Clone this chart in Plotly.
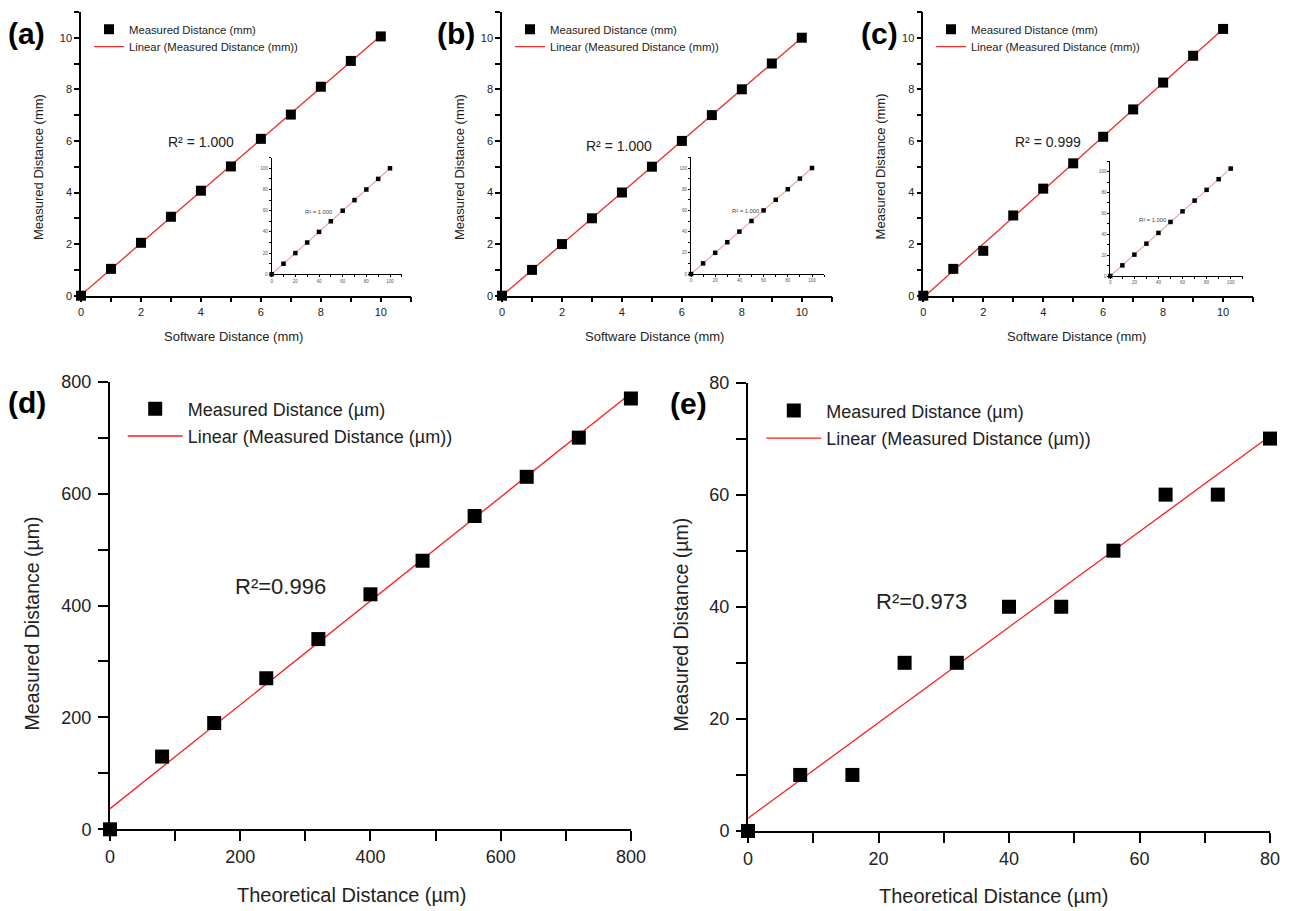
import numpy as np
import plotly.graph_objects as go

# ---------------- data ----------------
software_x = [0, 1, 2, 3, 4, 5, 6, 7, 8, 9, 10]
a_measured = [0, 1.04, 2.05, 3.06, 4.07, 5.01, 6.08, 7.02, 8.10, 9.10, 10.05]
b_measured = [0, 1.0, 2.0, 3.0, 4.0, 5.0, 6.0, 7.0, 8.0, 9.0, 10.0]
c_measured = [0, 1.04, 1.74, 3.11, 4.15, 5.13, 6.16, 7.22, 8.26, 9.30, 10.34]

inset_x = [0, 10, 20, 30, 40, 50, 60, 70, 80, 90, 100]
a_inset_y = [0, 10, 20, 30, 40, 50, 60, 70, 80, 90, 100]
b_inset_y = [0, 10, 20, 30, 40, 50, 60, 70, 80, 90, 100]
c_inset_y = [0, 10.2, 20.5, 31, 41.3, 51.8, 62, 72.3, 82.6, 92.8, 103]

d_x = [0, 80, 160, 240, 320, 400, 480, 560, 640, 720, 800]
d_y = [0, 130, 190, 270, 340, 420, 480, 560, 630, 700, 770]
e_x = [0, 8, 16, 24, 32, 40, 48, 56, 64, 72, 80]
e_y = [0, 10, 10, 30, 30, 40, 40, 50, 60, 60, 70]

r2_main = ["R² = 1.000", "R² = 1.000", "R² = 0.999", "R²=0.996", "R²=0.973"]
r2_inset = ["R² = 1.000", "R² = 1.000", "R² = 1.000"]
panel_labels = ["(a)", "(b)", "(c)", "(d)", "(e)"]
mm_names = ["Measured Distance (mm)", "Linear (Measured Distance (mm))"]
um_names = ["Measured Distance (µm)", "Linear (Measured Distance (µm))"]

# ---------------- layout helpers ----------------
W, H = 1290, 911
FONT = "Liberation Sans, Arial, sans-serif"


def px(x):
    return x / W


def py(y):
    return 1 - y / H


def dom_x(p0, p1):
    return [px(p0), px(p1)]


def dom_y(ptop, pbot):
    return [py(pbot), py(ptop)]


def axstyle(rng, dtick, mdtick, ticklen, lw, fs, domain, anchor, color="#222"):
    return dict(
        range=rng, domain=domain, anchor=anchor, showline=True, linecolor="black",
        linewidth=lw, ticks="outside", ticklen=ticklen, tickwidth=lw, tickcolor="black",
        tick0=0, dtick=dtick,
        minor=dict(dtick=mdtick, ticks="outside", ticklen=ticklen, tickwidth=lw,
                   tickcolor="black", showgrid=False),
        showgrid=False, zeroline=False, fixedrange=True, automargin=False,
        tickfont=dict(size=fs, color=color, family=FONT),
    )


def fit_line(x, y):
    x = np.asarray(x, float)
    y = np.asarray(y, float)
    k, b = np.polyfit(x, y, 1)
    xs = np.array([x.min(), x.max()])
    return xs, k * xs + b


fig = go.Figure()
layout = {}
annotations = []


def ann(text, x, y, size, xanchor="center", angle=0, bold=False, color="#222"):
    annotations.append(dict(
        text=f"<b>{text}</b>" if bold else text, x=px(x), y=py(y), xref="paper", yref="paper",
        xanchor=xanchor, yanchor="middle", showarrow=False, textangle=angle,
        font=dict(size=size, color=color, family=FONT)))


# ---------------- top row ----------------
top_panels = [
    dict(x0=81.0, y=a_measured, ix0=271.7, isx=1.183, iy0=274.3, isy=1.06, iy=a_inset_y,
         leg_text=129, r2=(165.7, 141.7), ir2=(302.7, 211.7), lab=(26, 33),
         ytitle_x=38.3),
    dict(x0=502.0, y=b_measured, ix0=691.0, isx=1.21, iy0=274.0, isy=1.06, iy=b_inset_y,
         leg_text=550, r2=(584.3, 145.7), ir2=(730.0, 210.7), lab=(456, 33),
         ytitle_x=459.3),
    dict(x0=923.3, y=c_measured, ix0=1110.3, isx=1.204, iy0=276.0, isy=1.043, iy=c_inset_y,
         leg_text=971, r2=(1012.7, 141.7), ir2=(1136.7, 220.0), lab=(879, 33),
         ytitle_x=880.7),
]

TOP_Y0 = 295.7      # pixel of y=0
TOP_SY = 25.8       # px per unit (y)
TOP_SX = 29.98      # px per unit (x)
leg_id = 1
for i, p in enumerate(top_panels):
    n_main = 2 * i + 1
    n_in = 2 * i + 2
    xa = "x" if n_main == 1 else f"x{n_main}"
    ya = "y" if n_main == 1 else f"y{n_main}"
    xkey = "xaxis" if n_main == 1 else f"xaxis{n_main}"
    ykey = "yaxis" if n_main == 1 else f"yaxis{n_main}"
    layout[xkey] = axstyle([0, 11], 2, 1, 5, 1.5, 11,
                           dom_x(p["x0"], p["x0"] + 11 * TOP_SX), ya)
    layout[ykey] = axstyle([0, 11], 2, 1, 5, 1.5, 11,
                           dom_y(TOP_Y0 - 11 * TOP_SY, TOP_Y0), xa)

    lgA = "legend" if leg_id == 1 else f"legend{leg_id}"
    lgB = f"legend{leg_id + 1}"
    fx, fy = fit_line(software_x, p["y"])
    fig.add_trace(go.Scatter(x=fx, y=fy, mode="lines", xaxis=xa, yaxis=ya,
                             line=dict(color="#ee2a2a", width=1.3), name=mm_names[1],
                             legend=lgB, showlegend=True, hoverinfo="skip"))
    fig.add_trace(go.Scatter(x=software_x, y=p["y"], mode="markers", xaxis=xa, yaxis=ya,
                             marker=dict(symbol="square", size=10, color="black"),
                             name=mm_names[0], legend=lgA, showlegend=True, cliponaxis=False))
    L = p["leg_text"] - 40
    for lg, row in ((lgA, 29.3), (lgB, 46.7)):
        layout[lg] = dict(x=px(L), y=py(row), xanchor="left", yanchor="middle",
                          bgcolor="rgba(0,0,0,0)", borderwidth=0, itemwidth=30,
                          font=dict(size=11.3, color="#222", family=FONT))
    leg_id += 2

    # inset
    xi = f"x{n_in}"
    yi = f"y{n_in}"
    layout[f"xaxis{n_in}"] = axstyle([0, 110], 20, 10, 2, 1, 4.5,
                                     dom_x(p["ix0"], p["ix0"] + 110 * p["isx"]), yi, "#555")
    layout[f"yaxis{n_in}"] = axstyle([0, 110], 20, 10, 2, 1, 4.5,
                                     dom_y(p["iy0"] - 110 * p["isy"], p["iy0"]), xi, "#555")
    ix, iy = fit_line(inset_x, p["iy"])
    fig.add_trace(go.Scatter(x=ix, y=iy, mode="lines", xaxis=xi, yaxis=yi,
                             line=dict(color="#f4a3a3", width=1.2), showlegend=False,
                             hoverinfo="skip"))
    fig.add_trace(go.Scatter(x=inset_x, y=p["iy"], mode="markers", xaxis=xi, yaxis=yi,
                             marker=dict(symbol="square", size=4.5, color="black"),
                             showlegend=False, cliponaxis=False))

    # texts
    ann(r2_main[i], p["r2"][0], p["r2"][1], 14, xanchor="left")
    ann(r2_inset[i], p["ir2"][0], p["ir2"][1], 5.8, xanchor="left", color="#444")
    ann(panel_labels[i], p["lab"][0], p["lab"][1], 30, bold=True, color="black")
    ann("Software Distance (mm)", p["x0"] + 152.8, 337, 13)
    ann("Measured Distance (mm)", p["ytitle_x"], 166.7, 13, angle=-90)

# ---------------- bottom row ----------------
bottom_panels = [
    dict(x=d_x, y=d_y, rng=800, dt=200, mdt=100, x0=110.0, x1=630.9, y0=829.3, y1=381.7,
         leg_text=187.7, rows=(409.0, 436.3), r2=(233.0, 586.7), lab=(27, 402),
         xt=(351, 895), yt=(32.4, 623)),
    dict(x=e_x, y=e_y, rng=80, dt=20, mdt=10, x0=748.0, x1=1270.0, y0=831.0, y1=382.5,
         leg_text=826.3, rows=(410.8, 438.4), r2=(873.7, 601.6), lab=(688, 403),
         xt=(993, 896), yt=(680.6, 625)),
]
for j, p in enumerate(bottom_panels):
    n = 7 + j
    xa, ya = f"x{n}", f"y{n}"
    layout[f"xaxis{n}"] = axstyle([0, p["rng"]], p["dt"], p["mdt"], 10, 2, 18,
                                  dom_x(p["x0"], p["x1"]), ya)
    layout[f"yaxis{n}"] = axstyle([0, p["rng"]], p["dt"], p["mdt"], 10, 2, 18,
                                  dom_y(p["y1"], p["y0"]), xa)
    layout[f"xaxis{n}"]["ticklabelstandoff"] = 0
    layout[f"yaxis{n}"]["ticklabelstandoff"] = 3
    lgA, lgB = f"legend{leg_id}", f"legend{leg_id + 1}"
    fx, fy = fit_line(p["x"], p["y"])
    fig.add_trace(go.Scatter(x=fx, y=fy, mode="lines", xaxis=xa, yaxis=ya,
                             line=dict(color="#ff1a1a", width=1.3), name=um_names[1],
                             legend=lgB, showlegend=True, hoverinfo="skip"))
    fig.add_trace(go.Scatter(x=p["x"], y=p["y"], mode="markers", xaxis=xa, yaxis=ya,
                             marker=dict(symbol="square", size=14, color="black"),
                             name=um_names[0], legend=lgA, showlegend=True, cliponaxis=False))
    L = p["leg_text"] - 65
    for lg, row in ((lgA, p["rows"][0]), (lgB, p["rows"][1])):
        layout[lg] = dict(x=px(L), y=py(row), xanchor="left", yanchor="middle",
                          bgcolor="rgba(0,0,0,0)", borderwidth=0, itemwidth=55,
                          font=dict(size=18, color="#222", family=FONT))
    leg_id += 2
    ann(r2_main[3 + j], p["r2"][0], p["r2"][1], 22, xanchor="left")
    ann(panel_labels[3 + j], p["lab"][0], p["lab"][1], 30, bold=True, color="black")
    ann("Theoretical Distance (µm)", p["xt"][0], p["xt"][1], 20)
    ann("Measured Distance (µm)", p["yt"][0], p["yt"][1], 19.5, angle=-90)

fig.update_layout(
    width=W, height=H, autosize=False,
    margin=dict(l=0, r=0, t=0, b=0, pad=0, autoexpand=False),
    paper_bgcolor="white", plot_bgcolor="rgba(0,0,0,0)",
    font=dict(family=FONT, color="#222"),
    annotations=annotations,
    **layout,
)

fig.write_html(
    "out.html",
    config={"displayModeBar": False},
    post_script="document.body.style.margin='0';document.body.style.overflow='hidden';",
)
